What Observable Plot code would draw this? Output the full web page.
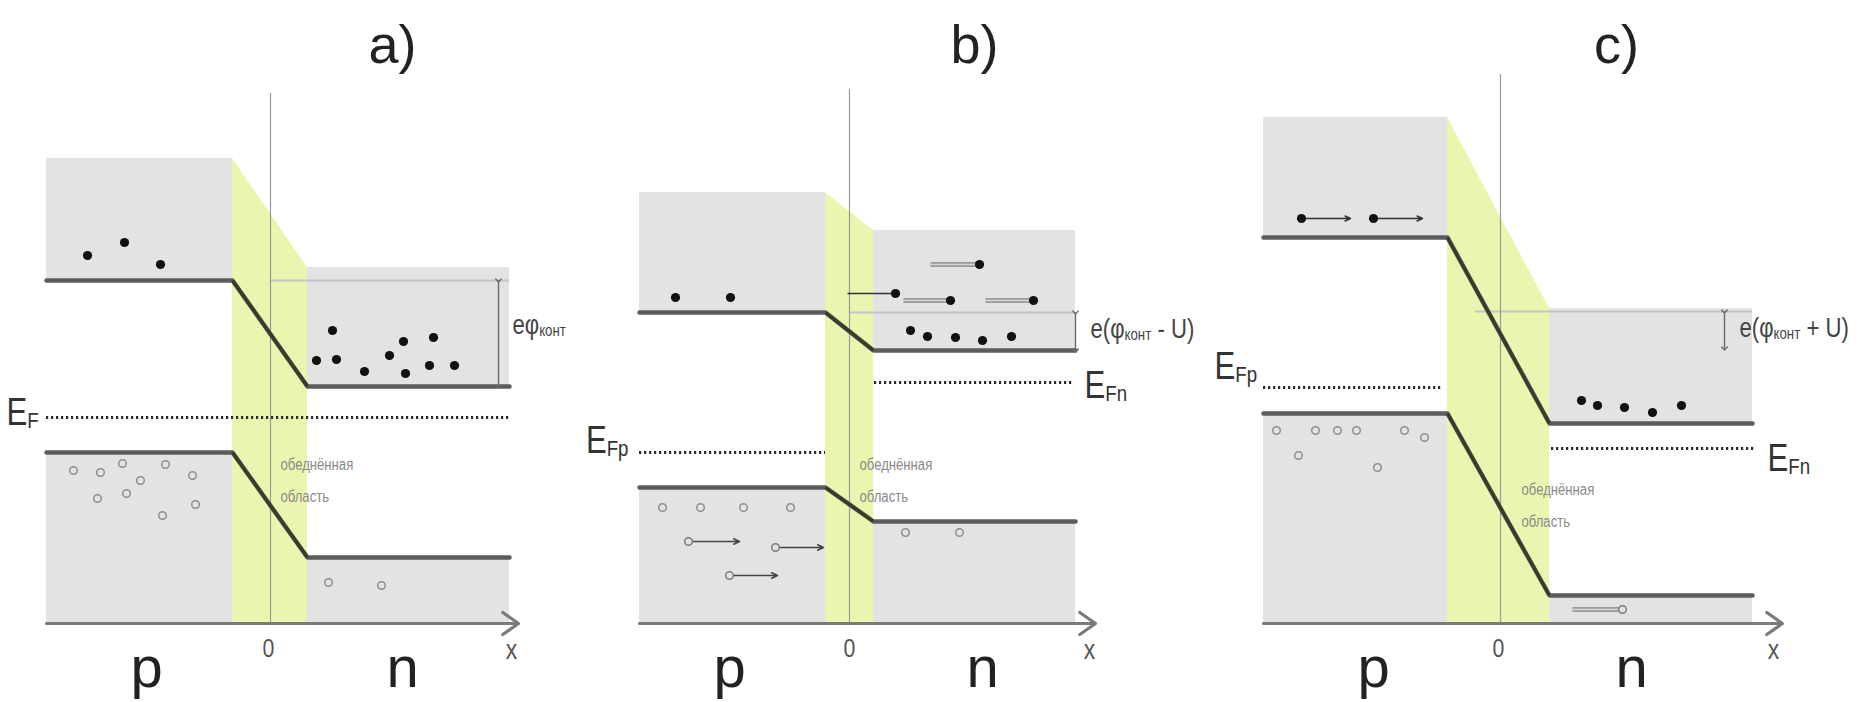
<!DOCTYPE html>
<html>
<head>
<meta charset="utf-8">
<script src="https://cdn.jsdelivr.net/npm/d3@7"></script>
<script src="https://cdn.jsdelivr.net/npm/@observablehq/plot@0.6"></script>
<style>
  body { margin: 0; background: #fff; }
  #wrap { display: flex; width: 1863px; height: 702px; overflow: hidden; }
</style>
</head>
<body>
<div id="wrap"></div>
<script>
// ---------- DATA (energy E and position x in diagram units; junction at x = 0) ----------
const panelNames = ["a)", "b)", "c)"];
const titleX = [1.22, 1.25, 1.16];
const titleE = 5.61;

const xDomainLo = [-2.70, -2.74, -2.92];
const xDomainHi = [3.05, 3.59, 3.63];

const xLeft = [-2.24, -2.10, -2.37];
const xBendStart = [-0.38, -0.24, -0.53];
const xBendEnd = [0.37, 0.24, 0.49];
const xRight = [2.39, 2.26, 2.52];
const xAxisEnd = [2.48, 2.46, 2.82];

const ecP = [3.43, 3.11, 3.86];   // conduction band edge, p side
const ecN = [2.37, 2.73, 2.00];   // conduction band edge, n side
const topP = [4.65, 4.31, 5.06];  // top of shaded conduction band, p side
const topN = [3.56, 3.93, 3.15];  // top of shaded conduction band, n side
const evP = [1.71, 1.36, 2.10];   // valence band edge, p side
const evN = [0.66, 1.02, 0.28];   // valence band edge, n side
const zeroTop = [5.30, 5.34, 5.49];

const fermiLevels = [
  {panel: 0, x1: -2.24, x2: 2.41, E: 2.06},
  {panel: 1, x1: -2.10, x2: -0.24, E: 1.71},
  {panel: 1, x1: 0.25, x2: 2.23, E: 2.41},
  {panel: 2, x1: -2.37, x2: -0.57, E: 2.36},
  {panel: 2, x1: 0.51, x2: 2.54, E: 1.75}
];
const fermiLabels = [
  {panel: 0, text: "E_{F}", x: -2.64, E: 1.99, anchor: "start"},
  {panel: 1, text: "E_{Fp}", x: -2.21, E: 1.71, anchor: "end"},
  {panel: 1, text: "E_{Fn}", x: 2.35, E: 2.26, anchor: "start"},
  {panel: 2, text: "E_{Fp}", x: -2.86, E: 2.45, anchor: "start"},
  {panel: 2, text: "E_{Fn}", x: 2.67, E: 1.53, anchor: "start"}
];

const barrierArrows = [
  {panel: 0, x: 2.28, E1: 3.43, E2: 2.37},
  {panel: 1, x: 2.26, E1: 3.11, E2: 2.73},
  {panel: 2, x: 2.24, E1: 3.12, E2: 2.75}
];
const barrierLabels = [
  {panel: 0, text: "eφ_{конт}", x: 2.42, E: 2.90},
  {panel: 1, text: "e(φ_{конт} - U)", x: 2.41, E: 2.86},
  {panel: 2, text: "e(φ_{конт} + U)", x: 2.39, E: 2.87}
];
const refLines = [
  {panel: 0, x1: 0, x2: 2.39, E: 3.43},
  {panel: 1, x1: 0, x2: 2.26, E: 3.11},
  {panel: 2, x1: -0.25, x2: 2.52, E: 3.12}
];

const electronsA = [[-1.83,3.68],[-1.46,3.81],[-1.10,3.59],[0.62,2.93],[0.46,2.63],[0.66,2.64],[0.94,2.52],[1.19,2.68],[1.33,2.82],[1.35,2.50],[1.59,2.58],[1.63,2.86],[1.84,2.58]];
const holesA = [[-1.97,1.53],[-1.70,1.51],[-1.48,1.60],[-1.05,1.59],[-0.78,1.48],[-1.30,1.43],[-1.73,1.25],[-1.44,1.30],[-1.08,1.08],[-0.75,1.19],[0.58,0.41],[1.11,0.38]];
const electronsB = [[-1.74,3.26],[-1.19,3.26],[0.61,2.93],[0.78,2.87],[1.06,2.86],[1.33,2.83],[1.62,2.87]];
const holesB = [[-1.87,1.16],[-1.49,1.16],[-1.06,1.16],[-0.59,1.16],[0.56,0.91],[1.10,0.91]];
const electronsC = [[0.81,2.23],[0.97,2.18],[1.24,2.16],[1.52,2.11],[1.81,2.18]];
const holesC = [[-2.24,1.93],[-1.85,1.93],[-1.63,1.93],[-1.44,1.93],[-0.96,1.93],[-0.76,1.86],[-2.02,1.68],[-1.23,1.56]];

// moving carriers: x = carrier position, xEnd = other end of its track
const movingElectrons = [
  {panel: 1, x: 1.30, xEnd: 0.81, E: 3.59, style: "trail"},
  {panel: 1, x: 0.46, xEnd: -0.02, E: 3.30, style: "line"},
  {panel: 1, x: 1.01, xEnd: 0.54, E: 3.23, style: "trail"},
  {panel: 1, x: 1.84, xEnd: 1.36, E: 3.23, style: "trail"},
  {panel: 2, x: -1.99, xEnd: -1.50, E: 4.05, style: "arrow"},
  {panel: 2, x: -1.27, xEnd: -0.78, E: 4.05, style: "arrow"}
];
const movingHoles = [
  {panel: 1, x: -1.61, xEnd: -1.10, E: 0.82, style: "arrow"},
  {panel: 1, x: -0.74, xEnd: -0.26, E: 0.76, style: "arrow"},
  {panel: 1, x: -1.20, xEnd: -0.72, E: 0.48, style: "arrow"},
  {panel: 2, x: 1.22, xEnd: 0.72, E: 0.14, style: "trail"}
];

const zeroLabelX = [-0.02, 0.00, -0.02];
const pLabelX = [-1.24, -1.20, -1.27];
const nLabelX = [1.32, 1.33, 1.31];
const xLabelX = [2.41, 2.40, 2.73];
const depletionText = "обеднённая\nобласть";
const depletionX = [0.10, 0.10, 0.21];
const depletionE = [1.76, 1.76, 1.51];

// ---------- DRAWING ----------
const FONT = "'Liberation Sans', Arial, sans-serif";
const panelWidth = [575, 633, 655];
const electronsAll = [electronsA, electronsB, electronsC];
const holesAll = [holesA, holesB, holesC];
const GRAY = "#e3e3e3", YELLOW = "#ebf5b0";
const NARROW = 0.82;

function fontSizeOf(t) {
  const host = t.closest("[font-size]");
  return host ? parseFloat(host.getAttribute("font-size")) : 12;
}

function applySubscripts(svg) {
  svg.querySelectorAll("text").forEach(t => {
    const s = t.textContent;
    if (!s.includes("_{")) return;
    const fs = fontSizeOf(t);
    const parts = s.split(/(_\{[^}]*\})/).filter(Boolean);
    t.textContent = "";
    let shifted = false;
    for (const p of parts) {
      const ts = document.createElementNS("http://www.w3.org/2000/svg", "tspan");
      if (p.startsWith("_{")) {
        ts.textContent = p.slice(2, -1);
        ts.setAttribute("font-size", fs * 0.6);
        ts.setAttribute("dy", fs * 0.1);
        shifted = true;
      } else {
        ts.textContent = p;
        if (shifted) { ts.setAttribute("dy", -fs * 0.1); shifted = false; }
      }
      t.appendChild(ts);
    }
  });
}

// narrow (condensed) look for the smaller labels, as in the reference
function condense(svg) {
  svg.querySelectorAll("text").forEach(t => {
    if (fontSizeOf(t) >= 50) return;
    const tr = t.getAttribute("transform");
    if (tr) {
      t.setAttribute("transform", tr + ` scale(${NARROW},1)`);
    } else {
      const x = t.getAttribute("x"), y = t.getAttribute("y");
      if (x !== null && !isNaN(+x)) {
        t.removeAttribute("x");
        let ty = 0;
        if (y !== null && !isNaN(+y)) { ty = +y; t.removeAttribute("y"); }
        t.setAttribute("transform", `translate(${+x},${ty}) scale(${NARROW},1)`);
      }
    }
  });
}

function buildPanel(i) {
  const rects = [
    {x1: xLeft[i], x2: xBendStart[i], y1: ecP[i], y2: topP[i]},
    {x1: xBendEnd[i], x2: xRight[i], y1: ecN[i], y2: topN[i]},
    {x1: xLeft[i], x2: xBendStart[i], y1: 0, y2: evP[i]},
    {x1: xBendEnd[i], x2: xRight[i], y1: 0, y2: evN[i]}
  ];
  const depletion = [
    {x: xBendStart[i], y1: 0, y2: topP[i]},
    {x: xBendEnd[i], y1: 0, y2: topN[i]}
  ];
  const band = (p, n, name) => [
    {x: xLeft[i], E: p, b: name}, {x: xBendStart[i], E: p, b: name},
    {x: xBendEnd[i], E: n, b: name}, {x: xRight[i], E: n, b: name}
  ];
  const bands = [...band(ecP[i], ecN[i], "c"), ...band(evP[i], evN[i], "v")];
  const diagonals = [
    {x1: xBendStart[i], y1: ecP[i], x2: xBendEnd[i], y2: ecN[i]},
    {x1: xBendStart[i], y1: evP[i], x2: xBendEnd[i], y2: evN[i]}
  ];
  const mine = arr => arr.filter(d => d.panel === i);
  const mE = mine(movingElectrons), mH = mine(movingHoles);
  const trails = [...mE, ...mH].filter(d => d.style === "trail");
  const lines = [...mE, ...mH].filter(d => d.style === "line");
  const arrowsE = mE.filter(d => d.style === "arrow");
  const arrowsH = mH.filter(d => d.style === "arrow");
  const fl = mine(fermiLabels);

  const svg = Plot.plot({
    width: panelWidth[i],
    height: 702,
    margin: 0,
    style: {overflow: "visible", background: "transparent"},
    x: {domain: [xDomainLo[i], xDomainHi[i]], range: [0, panelWidth[i]], axis: null},
    y: {domain: [0, 6.23], range: [623, 0], axis: null},
    marks: [
      Plot.rect(rects, {x1: "x1", x2: "x2", y1: "y1", y2: "y2", fill: GRAY}),
      Plot.areaY(depletion, {x: "x", y1: "y1", y2: "y2", fill: YELLOW, curve: "linear"}),
      Plot.ruleY(mine(refLines), {y: "E", x1: "x1", x2: "x2", stroke: "#c4c4c4", strokeWidth: 2}),
      Plot.ruleX([{x: 0, y1: 0, y2: zeroTop[i]}], {x: "x", y1: "y1", y2: "y2", stroke: "#9a9a9a", strokeWidth: 1.2}),
      Plot.ruleY(mine(fermiLevels), {y: "E", x1: "x1", x2: "x2", stroke: "#2a2a2a", strokeWidth: 2.8, strokeDasharray: "2.2,2.8"}),
      Plot.line(bands, {x: "x", y: "E", z: "b", stroke: "#5c5c5c", strokeWidth: 4.5, curve: "linear"}),
      Plot.link(diagonals, {x1: "x1", y1: "y1", x2: "x2", y2: "y2", stroke: "#333d28", strokeWidth: 3.2}),
      Plot.arrow([{x1: xLeft[i], x2: xAxisEnd[i], y: 0}], {x1: "x1", x2: "x2", y1: "y", y2: "y", stroke: "#7a7a7a", strokeWidth: 3.2, headLength: 9, headAngle: 70}),
      Plot.link(mine(barrierArrows), {x1: "x", x2: "x", y1: "E1", y2: "E2", stroke: "#6a6a6a", strokeWidth: 1.4, markerStart: "arrow", markerEnd: "arrow"}),
      Plot.link(trails, {x1: "xEnd", x2: "x", y1: "E", y2: "E", stroke: "#9b9b9b", strokeWidth: 5}),
      Plot.link(trails, {x1: "xEnd", x2: "x", y1: "E", y2: "E", stroke: "#d6d6d6", strokeWidth: 1.5}),
      Plot.link(lines, {x1: "xEnd", x2: "x", y1: "E", y2: "E", stroke: "#333", strokeWidth: 1.6}),
      Plot.arrow(arrowsE, {x1: "x", x2: "xEnd", y1: "E", y2: "E", stroke: "#333", strokeWidth: 1.5, headLength: 6, headAngle: 50}),
      Plot.arrow(arrowsH, {x1: "x", x2: "xEnd", y1: "E", y2: "E", stroke: "#444", strokeWidth: 1.6, headLength: 6, headAngle: 50, insetStart: 4}),
      Plot.dot(holesAll[i], {x: d => d[0], y: d => d[1], r: 3.8, stroke: "#8e8e8e", strokeWidth: 1.5, fill: "none"}),
      Plot.dot(mH, {x: "x", y: "E", r: 3.8, stroke: "#7a7a7a", strokeWidth: 1.5, fill: GRAY}),
      Plot.dot(electronsAll[i], {x: d => d[0], y: d => d[1], r: 4.6, fill: "#111"}),
      Plot.dot(mE, {x: "x", y: "E", r: 4.6, fill: "#111"}),
      // texts
      Plot.text([{x: titleX[i], E: titleE, t: panelNames[i]}], {x: "x", y: "E", text: "t", fontSize: 54, fontFamily: FONT, lineAnchor: "bottom", fill: "#222"}),
      Plot.text([{x: zeroLabelX[i], E: -0.25, t: "0"}], {x: "x", y: "E", text: "t", fontSize: 26, fontFamily: FONT, fill: "#555"}),
      Plot.text([{x: xLabelX[i], E: -0.27, t: "x"}], {x: "x", y: "E", text: "t", fontSize: 28, fontFamily: FONT, fill: "#555"}),
      Plot.text([{x: pLabelX[i], E: -0.63, t: "p"}, {x: nLabelX[i], E: -0.63, t: "n"}], {x: "x", y: "E", text: "t", fontSize: 58, fontFamily: FONT, lineAnchor: "bottom", fill: "#222"}),
      Plot.text([{x: depletionX[i], E: depletionE[i], t: depletionText}], {x: "x", y: "E", text: "t", fontSize: 16, lineHeight: 2, lineAnchor: "top", textAnchor: "start", fontFamily: FONT, fill: "#8a8a8a"}),
      Plot.text(fl.filter(d => d.anchor === "start"), {x: "x", y: "E", text: "text", textAnchor: "start", fontSize: 38, fontFamily: FONT, lineAnchor: "bottom", fill: "#333"}),
      Plot.text(fl.filter(d => d.anchor === "end"), {x: "x", y: "E", text: "text", textAnchor: "end", fontSize: 38, fontFamily: FONT, lineAnchor: "bottom", fill: "#333"}),
      Plot.text(mine(barrierLabels), {x: "x", y: "E", text: "text", textAnchor: "start", fontSize: 27, fontFamily: FONT, lineAnchor: "bottom", fill: "#444"})
    ]
  });
  applySubscripts(svg);
  condense(svg);
  return svg;
}

const wrap = document.getElementById("wrap");
for (let i = 0; i < 3; i++) wrap.appendChild(buildPanel(i));
</script>
</body>
</html>
